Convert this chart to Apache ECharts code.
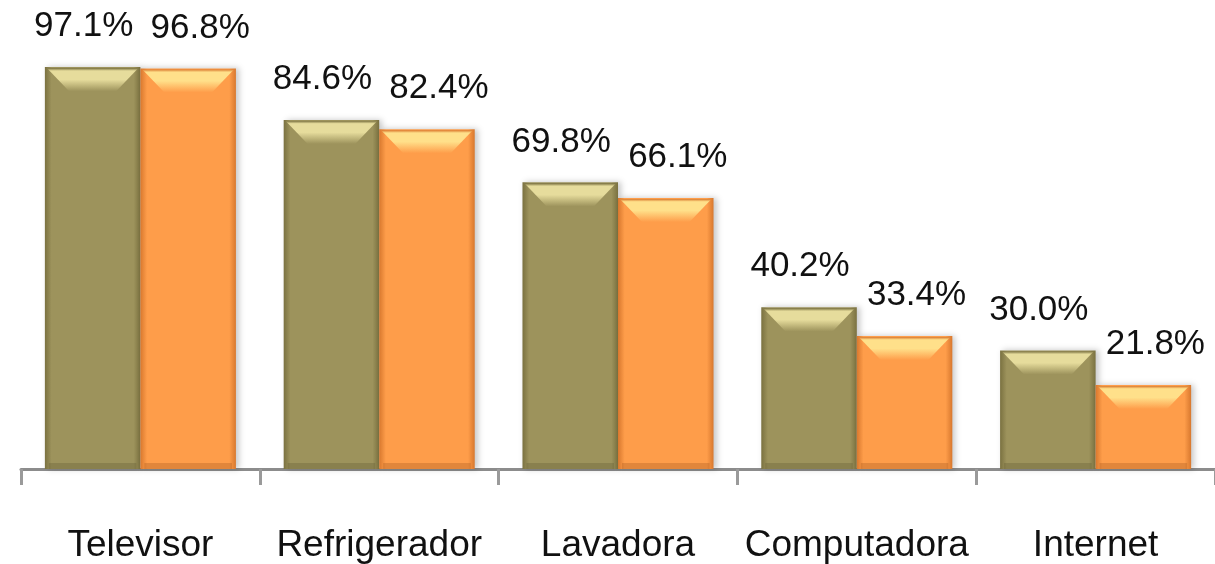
<!DOCTYPE html>
<html>
<head>
<meta charset="utf-8">
<script src="https://cdn.jsdelivr.net/npm/echarts@6/dist/echarts.min.js"></script>
<style>
  html, body { margin: 0; padding: 0; background: #fff; }
  #chart { width: 1215px; height: 564px; }
</style>
</head>
<body>
<div id="chart"></div>
<script>
  // datos
  var categories = ['Televisor', 'Refrigerador', 'Lavadora', 'Computadora', 'Internet'];
  var serieA = [97.1, 84.6, 69.8, 40.2, 30.0];
  var serieB = [96.8, 82.4, 66.1, 33.4, 21.8];

  var yMin = 1.9;
  var yMax = 113;

  var chart = echarts.init(document.getElementById('chart'));

  /** barra con bisel estilo Excel */
  function makeRender(side, c, labelDx) {
    return function (params, api) {
      var idx = api.value(0);
      var val = api.value(1);
      var top = api.coord([idx, val]);
      var base = api.coord([idx, yMin]);
      var band = api.size([1, 0])[0];
      var w = band * 0.4;
      var x0 = side < 0 ? top[0] - w : top[0];
      var x1 = x0 + w;
      var y0 = top[1];
      var h = base[1] - y0;
      var bev = 18;
      return {
        type: 'group',
        children: [
          {
            type: 'rect',
            shape: { x: x0, y: y0, width: w, height: h },
            style: {
              fill: new echarts.graphic.LinearGradient(0, 0, 1, 0, [
                { offset: 0, color: c.edge },
                { offset: 0.07, color: c.base },
                { offset: 0.93, color: c.base },
                { offset: 1, color: c.edge }
              ]),
              shadowBlur: 6,
              shadowOffsetX: 3,
              shadowColor: 'rgba(0,0,0,0.22)'
            }
          },
          {
            // bisel inferior
            type: 'rect',
            shape: { x: x0 + 4, y: base[1] - 6, width: w - 8, height: 6 },
            style: { fill: c.dark, opacity: 0.3 }
          },
          {
            // bisel superior
            type: 'polygon',
            shape: { points: [[x0 + 2, y0 + 1], [x1 - 2, y0 + 1], [x1 - bev - 6, y0 + bev + 6], [x0 + bev + 6, y0 + bev + 6]] },
            style: {
              fill: new echarts.graphic.LinearGradient(0, 0, 0, 1, [
                { offset: 0, color: c.edge },
                { offset: 0.12, color: c.light },
                { offset: 0.5, color: c.light },
                { offset: 1, color: c.base }
              ])
            }
          },
          {
            type: 'text',
            x: (x0 + x1) / 2 + labelDx,
            y: y0 - 23,
            style: {
              text: val.toFixed(1) + '%',
              fill: '#111',
              font: '35px "Liberation Sans", Arial, sans-serif',
              align: 'center',
              verticalAlign: 'bottom'
            }
          }
        ]
      };
    };
  }

  var olive = { base: '#9d935c', edge: '#7a7140', dark: '#5e5630', light: '#e6dc9c' };
  var orange = { base: '#fe9d4a', edge: '#d8782e', dark: '#a0541a', light: '#ffe08a' };

  var option = {
    animation: false,
    grid: { left: 21, width: 1200, top: 0, bottom: 95 },
    xAxis: {
      type: 'category',
      data: categories,
      axisLine: { lineStyle: { color: '#8c8c8c', width: 3 } },
      axisTick: { show: true, interval: 0, length: 16, lineStyle: { color: '#9a9a9a', width: 3 } },
      axisLabel: {
        interval: 0,
        color: '#111',
        fontSize: 37,
        fontFamily: '"Liberation Sans", Arial, sans-serif',
        margin: 58
      }
    },
    yAxis: { type: 'value', min: yMin, max: yMax, show: false },
    series: [
      {
        type: 'custom',
        renderItem: makeRender(-1, olive, -9),
        encode: { x: 0, y: 1 },
        data: serieA.map(function (v, i) { return [i, v]; })
      },
      {
        type: 'custom',
        renderItem: makeRender(1, orange, 12),
        encode: { x: 0, y: 1 },
        data: serieB.map(function (v, i) { return [i, v]; })
      }
    ]
  };
  chart.setOption(option);
</script>
</body>
</html>
